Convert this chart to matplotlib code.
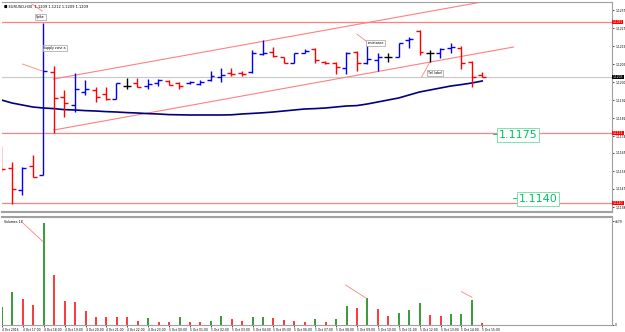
import matplotlib
matplotlib.use('Agg')
import matplotlib.pyplot as plt
import numpy as np

# --- data (EURUSD H30) ---
opens = [1.11665, 1.11575, 1.11465, 1.11585, 1.11540, 1.12055, 1.11930, 1.11890, 1.11955, 1.11965,
         1.11945, 1.11920, 1.11985, 1.12000, 1.11985, 1.12000, 1.12010, 1.12000, 1.12000, 1.11995,
         1.12015, 1.12030, 1.12050, 1.12050, 1.12055, 1.12145, 1.12155, 1.12130, 1.12100, 1.12150,
         1.12170, 1.12105, 1.12100, 1.12075, 1.12155, 1.12100, 1.12115, 1.12130, 1.12130, 1.12215,
         1.12260, 1.12150, 1.12150, 1.12175, 1.12175, 1.12105, 1.12040]
highs = [1.11685, 1.11605, 1.11580, 1.11640, 1.12300, 1.12085, 1.11965, 1.12050, 1.12015, 1.11980,
         1.11980, 1.12000, 1.12025, 1.12025, 1.12020, 1.12020, 1.12015, 1.12005, 1.12010, 1.12015,
         1.12060, 1.12075, 1.12075, 1.12060, 1.12165, 1.12215, 1.12180, 1.12130, 1.12150, 1.12170,
         1.12175, 1.12110, 1.12105, 1.12155, 1.12160, 1.12205, 1.12150, 1.12150, 1.12200, 1.12230,
         1.12265, 1.12165, 1.12175, 1.12200, 1.12185, 1.12110, 1.12055]
lows = [1.11555, 1.11395, 1.11440, 1.11530, 1.11540, 1.11750, 1.11830, 1.11855, 1.11940, 1.11905,
        1.11915, 1.11920, 1.11970, 1.11980, 1.11970, 1.11985, 1.11990, 1.11970, 1.11995, 1.11990,
        1.12010, 1.12005, 1.12035, 1.12035, 1.12050, 1.12140, 1.12130, 1.12100, 1.12100, 1.12150,
        1.12100, 1.12095, 1.12045, 1.12045, 1.12060, 1.12095, 1.12060, 1.12105, 1.12130, 1.12175,
        1.12140, 1.12105, 1.12125, 1.12150, 1.12070, 1.11980, 1.12030]
closes = [1.11570, 1.11470, 1.11575, 1.11530, 1.12060, 1.11925, 1.11900, 1.11970, 1.11970, 1.11930,
          1.11920, 1.12000, 1.11985, 1.11980, 1.11995, 1.12015, 1.11990, 1.11985, 1.12005, 1.12005,
          1.12035, 1.12040, 1.12045, 1.12045, 1.12150, 1.12150, 1.12135, 1.12100, 1.12150, 1.12160,
          1.12115, 1.12100, 1.12080, 1.12150, 1.12100, 1.12120, 1.12130, 1.12130, 1.12200, 1.12220,
          1.12155, 1.12150, 1.12170, 1.12180, 1.12100, 1.12030, 1.12030]
ma = [1.11915, 1.11900, 1.11890, 1.11880, 1.11875, 1.11872, 1.11867, 1.11865, 1.11862, 1.11860,
      1.11857, 1.11855, 1.11852, 1.11850, 1.11847, 1.11845, 1.11842, 1.11841, 1.11840, 1.11840,
      1.11840, 1.11840, 1.11841, 1.11845, 1.11848, 1.11851, 1.11855, 1.11860, 1.11865, 1.11870,
      1.11872, 1.11875, 1.11880, 1.11885, 1.11887, 1.11895, 1.11905, 1.11915, 1.11925, 1.11940,
      1.11955, 1.11965, 1.11975, 1.11985, 1.11992, 1.12000, 1.12010]
volumes = [797, 1499, 1170, 900, 4604, 2250, 1080, 1049, 617, 374, 360, 347, 338, 194, 329, 135,
           122, 347, 149, 135, 180, 405, 284, 180, 360, 374, 315, 225, 180, 149, 270, 135, 270,
           855, 765, 1202, 720, 419, 540, 689, 977, 450, 405, 495, 509, 1125, 77]
date_labels = ['4 Oct 2016', '4 Oct 17:00', '4 Oct 18:00', '4 Oct 19:00', '4 Oct 20:00',
               '4 Oct 21:00', '4 Oct 22:00', '4 Oct 23:00', '5 Oct 00:00', '5 Oct 01:00',
               '5 Oct 02:00', '5 Oct 03:00', '5 Oct 04:00', '5 Oct 05:00', '5 Oct 06:00',
               '5 Oct 07:00', '5 Oct 08:00', '5 Oct 09:00', '5 Oct 10:00', '5 Oct 11:00',
               '5 Oct 12:00', '5 Oct 13:00', '5 Oct 14:00', '5 Oct 15:00']
levels = [1.12305, 1.11750, 1.11400]
upper_channel = ([5, 46.5], [1.12020, 1.12410])
lower_channel = ([5, 49.0], [1.11765, 1.12180])
last_price = 1.12030
price_ticks = [1.11380, 1.11470, 1.11560, 1.11650, 1.11735, 1.11825, 1.11915,
               1.12005, 1.12095, 1.12185, 1.12275, 1.12365]

o, h, l, c = map(np.array, (opens, highs, lows, closes))
x = np.arange(len(o))
bar_col = np.where(c > o, '#0000ff', np.where(c < o, '#ff0000', '#000000'))

W, H = 625, 332
fig = plt.figure(figsize=(W / 100, H / 100), dpi=100)
fig.patch.set_facecolor('white')
xlim = (0.048, 58.42)
grey = '#a0a0a0'

ax = fig.add_axes([2 / W, 1 - 212 / H, 610 / W, 210 / H])
axv = fig.add_axes([2 / W, 1 - 325 / H, 610 / W, 108 / H])

# price panel
ax.axhline(last_price, color='#c8c8c8', lw=0.8, zorder=1)
for lv in levels:
    ax.axhline(lv, color='#ff8080', lw=0.9, zorder=1)
ax.plot(*upper_channel, color='#ff8080', lw=0.8)
ax.plot(*lower_channel, color='#ff8080', lw=0.8)
ax.plot(x, ma, color='#000080', lw=1.2, zorder=2)
ax.vlines(x, l, h, colors=bar_col, lw=1.0, zorder=3)
ax.hlines(o, x - 0.38, x, colors=bar_col, lw=1.0, zorder=3)
ax.hlines(c, x, x + 0.38, colors=bar_col, lw=1.0, zorder=3)

# annotation boxes and connectors
box = dict(boxstyle='square,pad=0.25', fc='white', ec='#a0a0a0', lw=0.5)
ax.plot([2.9, 3.9], [1.12395, 1.12360], color='#ff8080', lw=0.6)
ax.text(3.3, 1.12330, 'Spike', fontsize=2.3, bbox=box, va='center')
ax.text(4.0, 1.12175, 'Supply zone a', fontsize=2.3, bbox=box, va='center')
ax.plot([2.0, 3.9], [1.12095, 1.12060], color='#ff8080', lw=0.6)
ax.plot([34.0, 35.0], [1.12245, 1.12205], color='#ff8080', lw=0.6)
ax.text(35.0, 1.12200, 'resistance', fontsize=2.3, bbox=box, va='center')
ax.plot([40.2, 41.0], [1.12030, 1.12105], color='#ff8080', lw=0.6)
ax.text(40.8, 1.12050, 'Tail label', fontsize=2.3, bbox=box, va='center')

gbox = dict(boxstyle='square,pad=0.15', fc='white', ec='#66e0a0', lw=0.6)
ax.text(47.6, 1.11740, '1.1175', fontsize=8, color='#00c060', bbox=gbox, va='center')
ax.text(49.5, 1.11420, '1.1140', fontsize=8, color='#00c060', bbox=gbox, va='center')
ax.plot([47.0, 47.4], [1.11745, 1.11745], color='#00c060', lw=0.6)
ax.plot([48.9, 49.3], [1.11425, 1.11425], color='#00c060', lw=0.6)

ax.text(0.003, 0.985, '\u25a0 EURUSD,H30  1.1209 1.1212 1.1209 1.1209', transform=ax.transAxes,
        fontsize=2.6, va='top', ha='left')

ax.set_xlim(*xlim)
ax.set_ylim(1.11355, 1.12405)
ax.yaxis.tick_right()
ax.set_yticks(price_ticks)
ax.set_yticklabels([f'{p:.4f}' for p in price_ticks], fontsize=2.2)
ax.tick_params(axis='y', length=1.5, width=0.5, pad=0.8, colors='#000000')
ax.set_xticks([])
for lv, col in [(levels[0], '#ff0000'), (levels[1], '#ff0000'), (levels[2], '#ff0000'),
                (last_price, '#000000')]:
    ax.text(1.001, lv, f'{lv:.4f}', transform=ax.get_yaxis_transform(), fontsize=2.2,
            color='white', va='center', ha='left',
            bbox=dict(boxstyle='square,pad=0.15', fc=col, ec='none'))

# volume panel
vol = np.array(volumes)
up = np.concatenate([[True], vol[1:] > vol[:-1]])
axv.vlines(x, 0, vol, colors=np.where(up, '#008000', '#ff0000'), lw=1.1)
axv.plot([2.0, 3.9], [4590, 3760], color='#ff8080', lw=0.6)
axv.plot([32.9, 34.9], [1800, 1200], color='#ff8080', lw=0.6)
axv.plot([44.0, 45.0], [1500, 1250], color='#ff8080', lw=0.6)
axv.text(0.004, 0.97, 'Volumes 18', transform=axv.transAxes, fontsize=2.3, va='top')
axv.set_xlim(*xlim)
axv.set_ylim(0, 4860)
axv.yaxis.tick_right()
axv.set_yticks([0, 4679])
axv.set_yticklabels(['0', '4679'], fontsize=2.2)
axv.tick_params(axis='y', length=1.5, width=0.5, pad=0.8)
axv.set_xticks(x[::2])
axv.set_xticklabels(date_labels, fontsize=2.2, ha='left')
axv.tick_params(axis='x', length=1.5, width=0.5, pad=1)

for a in (ax, axv):
    for s in a.spines.values():
        s.set_color(grey)
        s.set_linewidth(0.8)
    a.spines['left'].set_visible(False)
ax.spines['bottom'].set_linewidth(1.5)
axv.spines['top'].set_linewidth(1.5)

fig.savefig('out.png', dpi=100, facecolor='white')
